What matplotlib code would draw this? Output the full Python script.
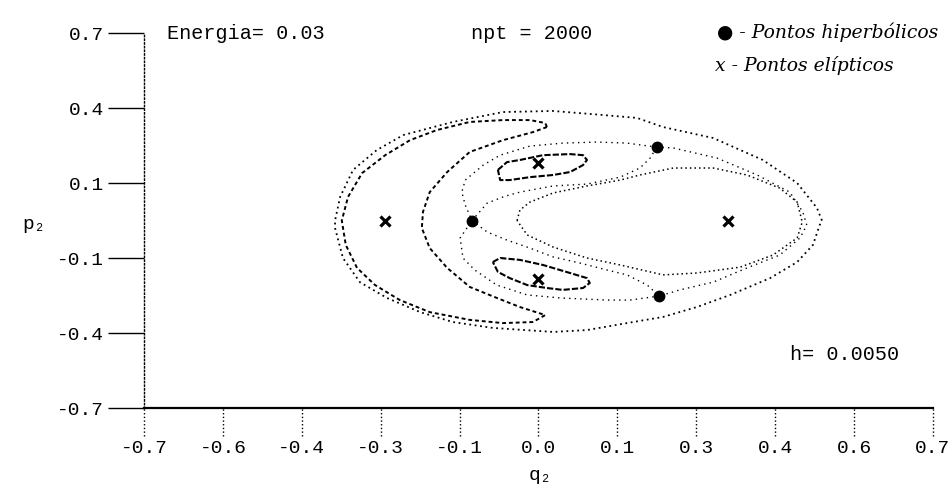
import matplotlib
matplotlib.use("Agg")
import matplotlib.pyplot as plt
import numpy as np

# tick values / labels (labels are rounded, as on the original printout)
x_ticks = np.linspace(-0.7, 0.7, 11)
x_tick_labels = ['-0.7', '-0.6', '-0.4', '-0.3', '-0.1', '0.0', '0.1', '0.3', '0.4', '0.6', '0.7']
y_ticks = np.linspace(-0.7, 0.7, 6)
y_tick_labels = ['-0.7', '-0.4', '-0.1', '0.1', '0.4', '0.7']

# outer invariant curve
outer_q = [0.503, 0.494, 0.459, 0.398, 0.310, 0.221, 0.175, 0.114, 0.026, -0.063, -0.152, -0.240,
           -0.287, -0.329, -0.352, -0.361, -0.361, -0.347, -0.317, -0.269, -0.210, -0.152, -0.081,
           0.026, 0.086, 0.157, 0.221, 0.281, 0.340, 0.411, 0.459, 0.487, 0.499, 0.503]
outer_p = [0.000, 0.047, 0.140, 0.226, 0.308, 0.349, 0.383, 0.394, 0.409, 0.405, 0.368, 0.319,
           0.263, 0.189, 0.088, 0.000, -0.028, -0.140, -0.230, -0.289, -0.342, -0.379, -0.401,
           -0.416, -0.409, -0.383, -0.360, -0.323, -0.278, -0.215, -0.155, -0.091, -0.017, 0.000]

# crescent island around the left elliptic point
cres_q = [0.015, 0.012, -0.015, -0.063, -0.122, -0.180, -0.228, -0.272, -0.313, -0.338, -0.349,
          -0.342, -0.322, -0.290, -0.246, -0.193, -0.122, -0.063, -0.010, 0.012, -0.033, -0.074,
          -0.122, -0.162, -0.193, -0.207, -0.205, -0.193, -0.162, -0.122, -0.063, -0.010, 0.015]
cres_p = [0.349, 0.364, 0.375, 0.375, 0.368, 0.338, 0.300, 0.244, 0.177, 0.088, 0.000,
          -0.091, -0.177, -0.241, -0.297, -0.342, -0.371, -0.383, -0.379, -0.353, -0.323, -0.289,
          -0.248, -0.177, -0.103, -0.028, 0.032, 0.106, 0.181, 0.256, 0.300, 0.330, 0.349]

# small islands above and below
up_q = [-0.072, -0.056, -0.033, 0.008, 0.056, 0.079, 0.086, 0.079, 0.056, 0.026, -0.015, -0.051, -0.068, -0.072]
up_p = [0.189, 0.218, 0.226, 0.244, 0.248, 0.244, 0.226, 0.207, 0.181, 0.170, 0.162, 0.151, 0.151, 0.189]
low_q = [-0.081, -0.068, -0.033, 0.008, 0.056, 0.086, 0.091, 0.079, 0.043, 0.015, -0.020, -0.051, -0.072, -0.081]
low_p = [-0.155, -0.140, -0.147, -0.166, -0.196, -0.215, -0.233, -0.252, -0.259, -0.252, -0.241, -0.215, -0.192, -0.155]

# curve around the central elliptic point
inner_q = [-0.038, -0.033, -0.015, 0.026, 0.086, 0.145, 0.180, 0.239, 0.310, 0.370, 0.428, 0.459,
           0.468, 0.459, 0.416, 0.358, 0.281, 0.221, 0.145, 0.086, 0.026, -0.020, -0.038]
inner_p = [0.000, 0.039, 0.069, 0.103, 0.129, 0.151, 0.170, 0.196, 0.196, 0.170, 0.121, 0.069,
           -0.006, -0.065, -0.129, -0.174, -0.196, -0.203, -0.166, -0.140, -0.099, -0.054, 0.000]

# separatrix branches between the hyperbolic points
sep1_q = [-0.118, -0.091, -0.059, -0.033, 0.026, 0.086, 0.145, 0.180, 0.198, 0.210]
sep1_p = [0.000, 0.065, 0.091, 0.106, 0.129, 0.136, 0.162, 0.196, 0.233, 0.274]
sep2_q = [-0.118, -0.091, -0.056, -0.015, 0.026, 0.074, 0.122, 0.157, 0.193, 0.214]
sep2_p = [0.000, -0.043, -0.073, -0.103, -0.136, -0.159, -0.185, -0.203, -0.241, -0.282]
sep3_q = [0.210, 0.239, 0.317, 0.388, 0.446, 0.469, 0.476, 0.464, 0.428, 0.370, 0.310, 0.251, 0.214]
sep3_p = [0.274, 0.271, 0.233, 0.170, 0.106, 0.032, -0.017, -0.065, -0.129, -0.177, -0.230, -0.259, -0.282]
sep4_q = [0.210, 0.157, 0.104, 0.043, -0.015, -0.068, -0.098, -0.130, -0.136, -0.130, -0.118]
sep4_p = [0.274, 0.289, 0.293, 0.289, 0.278, 0.244, 0.207, 0.151, 0.106, 0.058, 0.000]
sep5_q = [0.214, 0.162, 0.122, 0.038, -0.020, -0.074, -0.113, -0.134, -0.139, -0.118]
sep5_p = [-0.282, -0.297, -0.297, -0.289, -0.278, -0.241, -0.185, -0.140, -0.065, 0.000]

# fixed points
hyp_q = [-0.118, 0.210, 0.214]
hyp_p = [0.000, 0.274, -0.282]
ell_q = [-0.272, 0.336, 0.000, 0.000]
ell_p = [0.000, 0.000, 0.215, -0.218]

mono = ['Liberation Mono', 'DejaVu Sans Mono']

fig = plt.figure(figsize=(9.53, 4.93), dpi=100)
ax = fig.add_axes([0.1511, 0.1724, 0.8279, 0.7606])
ax.set_xlim(-0.7, 0.7)
ax.set_ylim(-0.7, 0.7)

ax.plot(outer_q, outer_p, color='black', lw=1.3, ls=(0, (1, 2)))
ax.plot(cres_q, cres_p, color='black', lw=1.4, ls=(0, (2, 1.5)))
ax.plot(up_q, up_p, color='black', lw=1.5, ls=(0, (3, 1)))
ax.plot(low_q, low_p, color='black', lw=1.5, ls=(0, (3, 1)))
ax.plot(inner_q, inner_p, color='black', lw=1.1, ls=(0, (1, 2)))
for sq, sp in [(sep1_q, sep1_p), (sep2_q, sep2_p), (sep3_q, sep3_p), (sep4_q, sep4_p), (sep5_q, sep5_p)]:
    ax.plot(sq, sp, color='black', lw=1.0, ls=(0, (1, 3)))

ax.plot(hyp_q, hyp_p, 'o', color='black', ms=7.5)
ax.plot(ell_q, ell_p, 'x', color='black', ms=7.5, mew=2.3)

# axes in the style of the old plotter
for s in ['top', 'right']:
    ax.spines[s].set_visible(False)
ax.spines['left'].set_linestyle(':')
ax.spines['left'].set_linewidth(1.0)
ax.spines['bottom'].set_linewidth(1.6)

ax.set_yticks(y_ticks)
ax.set_yticklabels(y_tick_labels, family=mono, fontsize=14)
ax.tick_params(axis='y', length=26, width=1.0, direction='out', pad=3)
ax.set_xticks(x_ticks)
ax.set_xticklabels(x_tick_labels, family=mono, fontsize=14)
ax.tick_params(axis='x', length=0, pad=23)
ax.vlines(x_ticks, -0.075, 0, transform=ax.get_xaxis_transform(), colors='black',
          lw=1.0, ls=':', clip_on=False)

fig.text(0.036, 0.545, 'p₂', family=mono, fontsize=14, ha='center', va='center')
fig.text(0.567, 0.035, 'q₂', family=mono, fontsize=14, ha='center', va='center')

fig.text(0.175, 0.933, 'Energia= 0.03', family=mono, fontsize=14.5, ha='left', va='center')
fig.text(0.494, 0.933, 'npt = 2000', family=mono, fontsize=14.5, ha='left', va='center')
fig.text(0.829, 0.280, 'h= 0.0050', family=mono, fontsize=14.5, ha='left', va='center')

fig.text(0.752, 0.935, '● - Pontos hiperbólicos', family='DejaVu Serif', style='italic',
         fontsize=13.5, ha='left', va='center')
fig.text(0.750, 0.868, 'x - Pontos elípticos', family='DejaVu Serif', style='italic',
         fontsize=13.5, ha='left', va='center')

fig.savefig('out.png', dpi=100, facecolor='white')
